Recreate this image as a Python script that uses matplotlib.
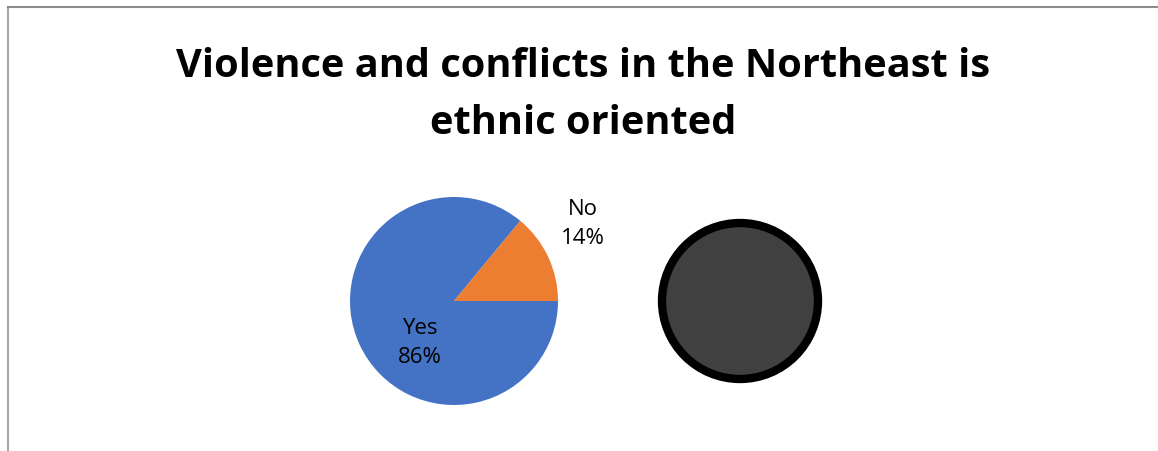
import matplotlib.pyplot as plt
from matplotlib.patches import Circle

# データ
labels = ["Yes", "No"]
values = [86, 14]
colors = ["#4472C4", "#ED7D31"]
title = "Violence and conflicts in the Northeast is\nethnic oriented"

W, H = 1158, 451

fig = plt.figure(figsize=(W / 100, H / 100), dpi=100)
ax = fig.add_axes([0, 0, 1, 1])

# 枠線（左・上）
ax.plot([8, 8], [0, H - 7], color="#a6a6a6", lw=1.5)
ax.plot([8, W], [H - 7, H - 7], color="#8c8c8c", lw=1.5)

# 円グラフ
wedges, _ = ax.pie(values, colors=colors, startangle=360 * values[1] / 100,
                   counterclock=True, center=(454, H - 301), radius=104,
                   frame=True, wedgeprops=dict(linewidth=0))
ax.set_xlim(0, W)
ax.set_ylim(0, H)
ax.set_aspect('equal')
ax.axis('off')

label_pos = {"Yes": (420, H - 343), "No": (583, H - 224)}
for lab, v in zip(labels, values):
    x, y = label_pos[lab]
    ax.text(x, y, f"{lab}\n{v}%", ha="center", va="center", fontsize=16,
            family="Open Sans", linespacing=1.55, color="#000000")

# 右側の丸
ax.add_patch(Circle((740, H - 301), 78, facecolor="#404040",
                    edgecolor="black", linewidth=6))

ax.text(583, H - 95, title, ha="center", va="center", fontsize=28.6,
        fontweight="bold", family="Open Sans", linespacing=1.6)

fig.savefig("out.png", dpi=100)
